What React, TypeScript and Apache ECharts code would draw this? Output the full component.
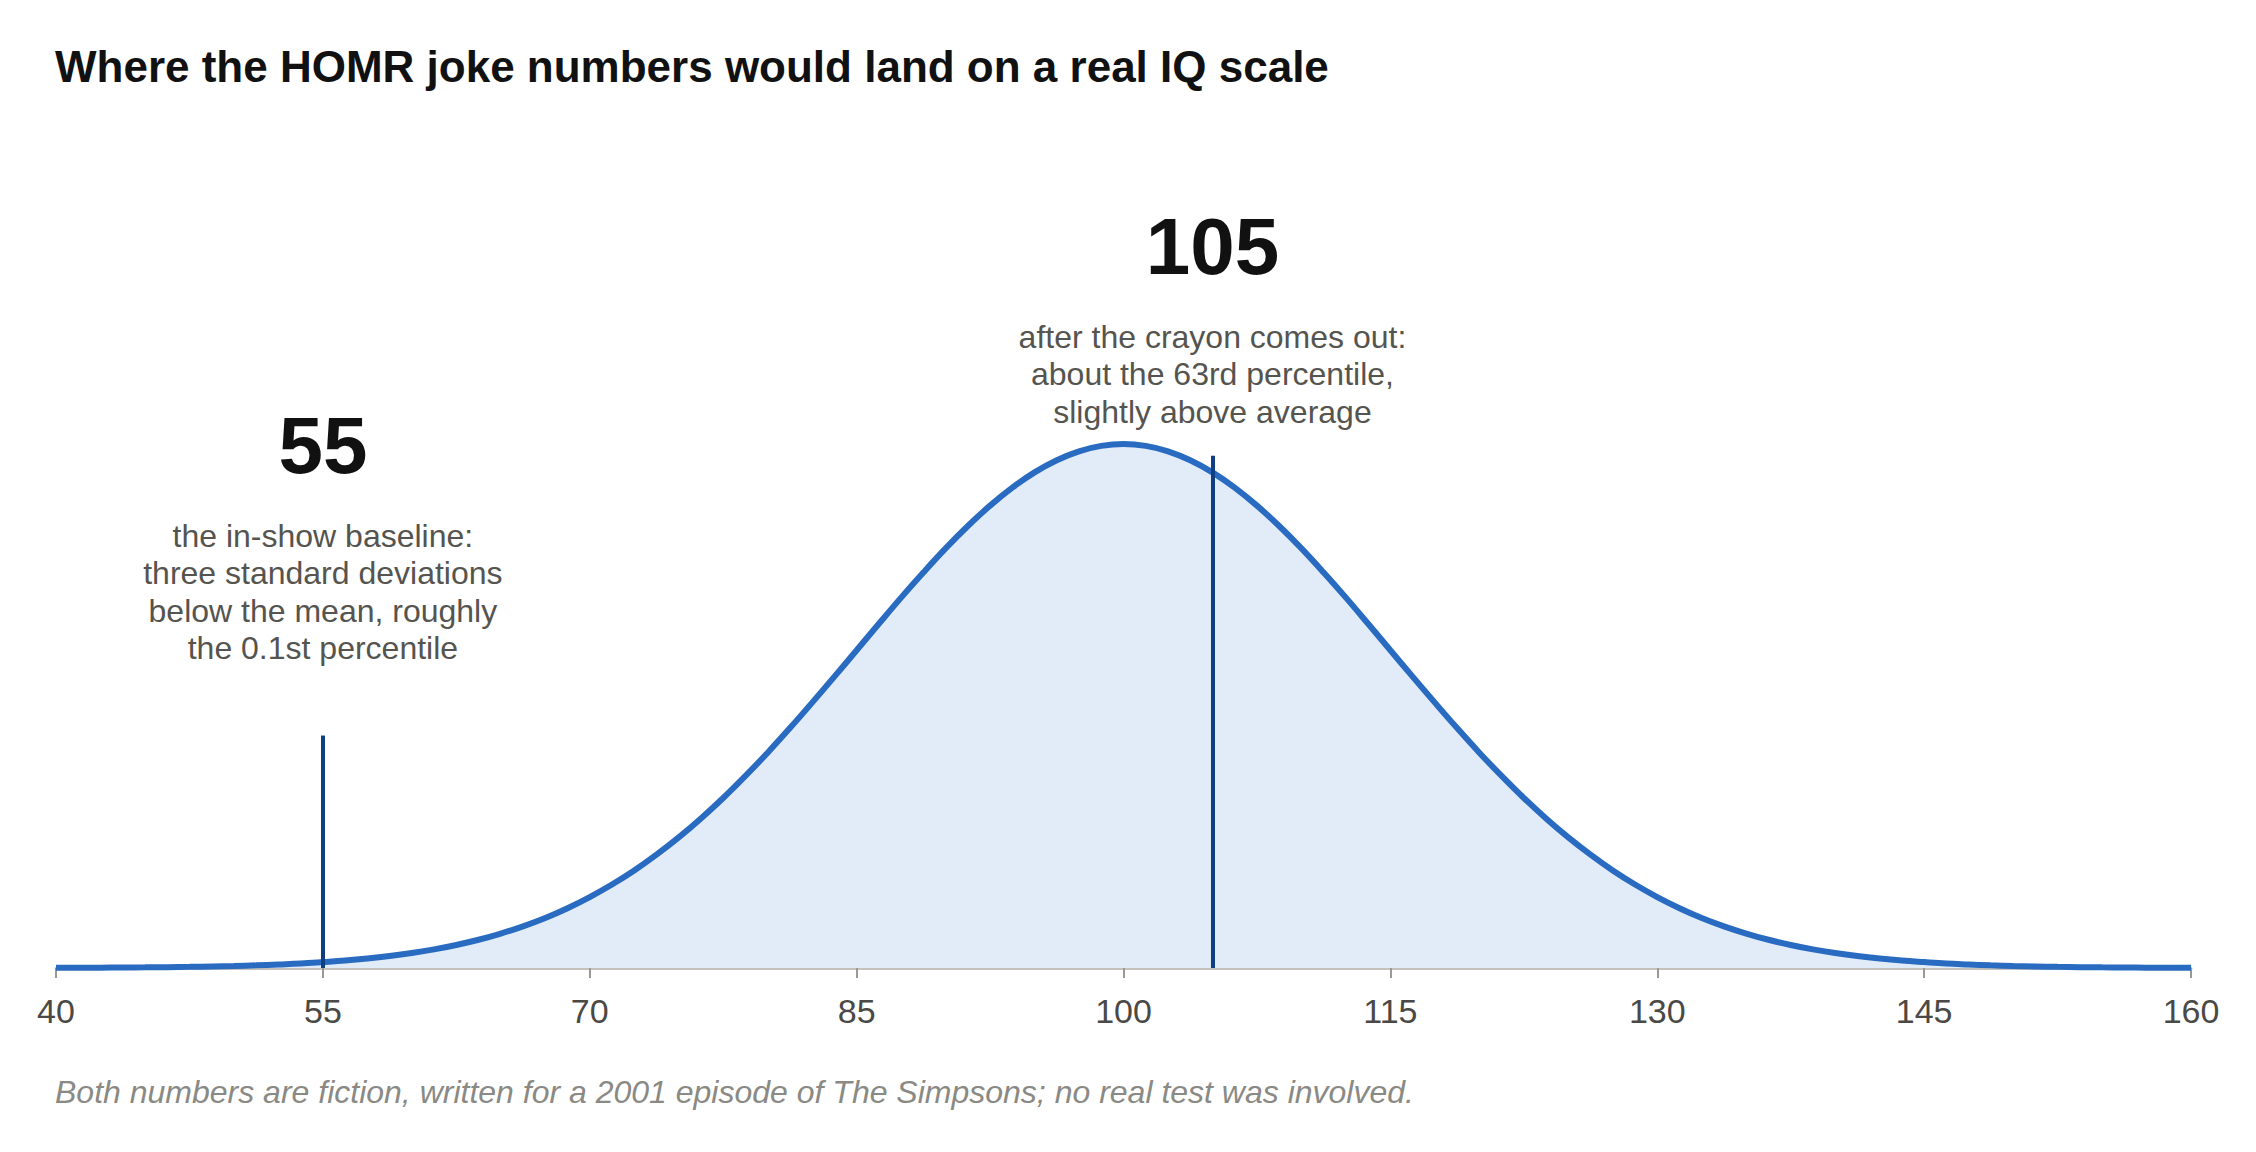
import React, { useEffect, useRef } from "react";
import * as echarts from "echarts";

// IQ scores sampled along the x axis
const iqValues = [
  40, 41.25, 42.5, 43.75, 45, 46.25, 47.5, 48.75, 50, 51.25, 52.5, 53.75,
  55, 56.25, 57.5, 58.75, 60, 61.25, 62.5, 63.75, 65, 66.25, 67.5, 68.75,
  70, 71.25, 72.5, 73.75, 75, 76.25, 77.5, 78.75, 80, 81.25, 82.5, 83.75,
  85, 86.25, 87.5, 88.75, 90, 91.25, 92.5, 93.75, 95, 96.25, 97.5, 98.75,
  100,
  101.25, 102.5, 103.75, 105, 106.25, 107.5, 108.75, 110, 111.25, 112.5, 113.75, 115,
  116.25, 117.5, 118.75, 120, 121.25, 122.5, 123.75, 125, 126.25, 127.5, 128.75, 130,
  131.25, 132.5, 133.75, 135, 136.25, 137.5, 138.75, 140, 141.25, 142.5, 143.75, 145,
  146.25, 147.5, 148.75, 150, 151.25, 152.5, 153.75, 155, 156.25, 157.5, 158.75, 160,
];
// curve height (density x 1000)
const densityValues = [
  0.009, 0.012, 0.017, 0.024, 0.032, 0.043, 0.058, 0.078, 0.1, 0.135, 0.18, 0.229,
  0.3, 0.378, 0.48, 0.606, 0.76, 0.945, 1.17, 1.434, 1.75, 2.116, 2.54, 3.036,
  3.6, 4.237, 4.95, 5.752, 6.63, 7.594, 8.63, 9.75, 10.93, 12.177, 13.47, 14.79,
  16.13, 17.473, 18.8, 20.076, 21.3, 22.435, 23.47, 24.385, 25.16, 25.778, 26.23, 26.504,
  26.6,
  26.504, 26.23, 25.778, 25.16, 24.385, 23.47, 22.435, 21.3, 20.076, 18.8, 17.473, 16.13,
  14.79, 13.47, 12.177, 10.93, 9.75, 8.63, 7.594, 6.63, 5.752, 4.95, 4.237, 3.6,
  3.036, 2.54, 2.116, 1.75, 1.434, 1.17, 0.945, 0.76, 0.606, 0.48, 0.378, 0.3,
  0.229, 0.18, 0.135, 0.1, 0.078, 0.058, 0.043, 0.032, 0.024, 0.017, 0.012, 0.009,
];
const xTicks = [40, 55, 70, 85, 100, 115, 130, 145, 160];

const markerIQ = [55, 105];
const markerTop = [11.8, 26.0];
const markerLabels = ["55", "105"];
const markerNotes = [
  "the in-show baseline:\nthree standard deviations\nbelow the mean, roughly\nthe 0.1st percentile",
  "after the crayon comes out:\nabout the 63rd percentile,\nslightly above average",
];

const titleText = "Where the HOMR joke numbers would land on a real IQ scale";
const footnoteText =
  "Both numbers are fiction, written for a 2001 episode of The Simpsons; no real test was involved.";

const FONT = "'Liberation Sans', Arial, Helvetica, sans-serif";

export default function App() {
  const ref = useRef<HTMLDivElement>(null);

  useEffect(() => {
    document.body.style.margin = "0";
    if (!ref.current) return;
    const chart = echarts.init(ref.current, null, { renderer: "svg" });

    const option: any = {
      animation: false,
      backgroundColor: "#ffffff",
      grid: { left: 56, right: 65, top: 377, bottom: 184 },
      xAxis: {
        type: "value",
        min: 40,
        max: 160,
        splitLine: { show: false },
        axisLine: { show: true, lineStyle: { color: "#c4c1ba", width: 3 } },
        axisTick: {
          show: true,
          length: 10,
          customValues: xTicks,
          lineStyle: { color: "#9a9893", width: 2 },
        },
        axisLabel: {
          customValues: xTicks,
          fontSize: 34,
          color: "#4a4945",
          fontFamily: FONT,
          margin: 26,
        },
      },
      yAxis: { type: "value", min: 0, max: 30, show: false },
      series: [
        {
          type: "line",
          data: iqValues.map((x, i) => [x, densityValues[i]]),
          smooth: 0.4,
          showSymbol: false,
          symbol: "none",
          emphasis: { disabled: true },
          lineStyle: { color: "#2a6bc2", width: 6 },
          areaStyle: { color: "#e2ecf8", opacity: 1 },
          markLine: {
            silent: true,
            symbol: ["none", "none"],
            label: { show: false },
            emphasis: { disabled: true },
            lineStyle: { color: "#0f3f82", width: 4, type: "solid" },
            data: markerIQ.map((v, i) => [
              { coord: [v, 0] },
              { coord: [v, markerTop[i]] },
            ]),
          },
        },
      ],
    };
    chart.setOption(option);

    const px = markerIQ.map((v) => chart.convertToPixel({ xAxisIndex: 0 }, v) as number);
    const bigY = [445, 246];
    const noteY = [592, 374];

    const graphic: any[] = [
      {
        type: "text",
        x: 55,
        y: 66,
        style: {
          text: titleText,
          fontSize: 44,
          fontWeight: "bold",
          fontFamily: FONT,
          fill: "#111111",
          align: "left",
          verticalAlign: "middle",
        },
      },
      {
        type: "text",
        x: 55,
        y: 1092,
        style: {
          text: footnoteText,
          fontSize: 32,
          fontStyle: "italic",
          fontFamily: FONT,
          fill: "#8a8984",
          align: "left",
          verticalAlign: "middle",
        },
      },
    ];
    markerIQ.forEach((_, i) => {
      graphic.push({
        type: "text",
        x: px[i],
        y: bigY[i],
        style: {
          text: markerLabels[i],
          fontSize: 80,
          fontWeight: "bold",
          fontFamily: FONT,
          fill: "#111111",
          align: "center",
          verticalAlign: "middle",
        },
      });
      graphic.push({
        type: "text",
        x: px[i],
        y: noteY[i],
        style: {
          text: markerNotes[i],
          fontSize: 32,
          lineHeight: 37.5,
          fontFamily: FONT,
          fill: "#55544f",
          align: "center",
          verticalAlign: "middle",
        },
      });
    });
    chart.setOption({ graphic });

    return () => chart.dispose();
  }, []);

  return <div ref={ref} style={{ width: 2256, height: 1152 }} />;
}
